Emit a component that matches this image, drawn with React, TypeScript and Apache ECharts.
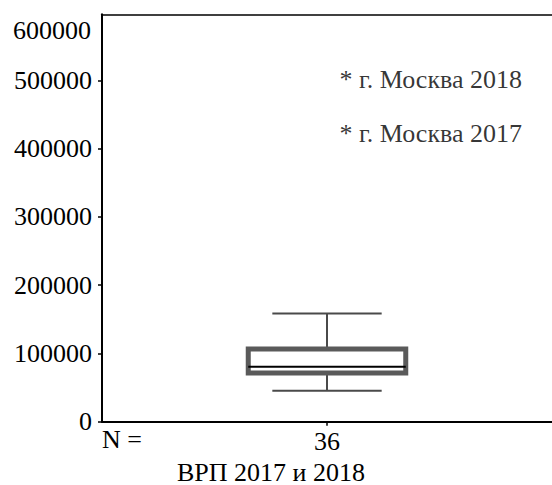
import React, { useEffect, useRef } from "react";
import * as echarts from "echarts";

// ---- data ----
const categories = ["36"];
const whiskerLow = [45400];
const quartile1 = [71300];
const medians = [80500];
const quartile3 = [106400];
const whiskerHigh = [158700];

const outlierNames = ["* г. Москва 2018", "* г. Москва 2017"];
const outlierValues = [502000, 422500];

const yTicks = [0, 100000, 200000, 300000, 400000, 500000];
const yTopLabel = "600000";
const yMax = 597000;

const nLabel = "N =";
const xTitle = "ВРП 2017 и 2018";

const FONT = "'Liberation Serif', 'Times New Roman', serif";

export default function App() {
  const ref = useRef<HTMLDivElement>(null);

  useEffect(() => {
    if (!ref.current) return;
    const chart = echarts.init(ref.current, null, { renderer: "svg" });

    const boxData = categories.map((_, i) => [
      i,
      whiskerLow[i],
      quartile1[i],
      medians[i],
      quartile3[i],
      whiskerHigh[i],
    ]);

    const outlierData = outlierValues.map((v, i) => ({
      value: [0, v],
      name: outlierNames[i],
    }));

    const option: any = {
      animation: false,
      backgroundColor: "#fff",
      grid: {
        left: 102,
        right: 0,
        top: 14.3,
        bottom: 63.3,
        containLabel: false,
        outerBoundsMode: "none",
      },
      xAxis: [
        {
          type: "category",
          data: categories,
          position: "bottom",
          boundaryGap: true,
          axisLine: { show: true, lineStyle: { color: "#000", width: 2 } },
          axisTick: {
            show: true,
            alignWithLabel: true,
            length: 4,
            lineStyle: { color: "#000", width: 1.5 },
          },
          axisLabel: {
            color: "#000",
            fontFamily: FONT,
            fontSize: 26,
            margin: 7,
          },
          splitLine: { show: false },
        },
        {
          type: "category",
          data: categories,
          position: "top",
          axisLine: { show: true, lineStyle: { color: "#000", width: 1.5 } },
          axisTick: { show: false },
          axisLabel: { show: false },
          splitLine: { show: false },
        },
      ],
      yAxis: {
        type: "value",
        min: 0,
        max: yMax,
        interval: 100000,
        axisLine: { show: true, lineStyle: { color: "#000", width: 2 } },
        axisTick: {
          show: true,
          length: 4,
          lineStyle: { color: "#000", width: 1.5 },
          customValues: yTicks,
        },
        axisLabel: {
          color: "#000",
          fontFamily: FONT,
          fontSize: 26,
          margin: 10,
          customValues: yTicks,
          formatter: (v: number) => String(v),
        },
        splitLine: { show: false },
      },
      series: [
        {
          type: "custom",
          xAxisIndex: 0,
          data: boxData,
          encode: { x: 0, y: [1, 2, 3, 4, 5] },
          renderItem: (params: any, api: any) => {
            const idx = api.value(0);
            const cx = api.coord([idx, 0])[0];
            const bw = api.size([1, 0])[0];
            const boxW = bw * 0.35;
            const capW = bw * 0.243;
            const yLow = api.coord([idx, api.value(1)])[1];
            const yQ1 = api.coord([idx, api.value(2)])[1];
            const yMed = api.coord([idx, api.value(3)])[1];
            const yQ3 = api.coord([idx, api.value(4)])[1];
            const yHigh = api.coord([idx, api.value(5)])[1];
            const wStyle = { stroke: "#4a4a4a", lineWidth: 2, fill: null };
            return {
              type: "group",
              children: [
                { type: "line", shape: { x1: cx, y1: yHigh, x2: cx, y2: yQ3 }, style: wStyle },
                { type: "line", shape: { x1: cx, y1: yQ1, x2: cx, y2: yLow }, style: wStyle },
                { type: "line", shape: { x1: cx - capW / 2, y1: yHigh, x2: cx + capW / 2, y2: yHigh }, style: wStyle },
                { type: "line", shape: { x1: cx - capW / 2, y1: yLow, x2: cx + capW / 2, y2: yLow }, style: wStyle },
                {
                  type: "rect",
                  shape: { x: cx - boxW / 2, y: yQ3, width: boxW, height: yQ1 - yQ3 },
                  style: { fill: "#fff", stroke: "#5a5a5a", lineWidth: 5 },
                },
                {
                  type: "line",
                  shape: { x1: cx - boxW / 2, y1: yMed, x2: cx + boxW / 2, y2: yMed },
                  style: { stroke: "#000", lineWidth: 2 },
                },
              ],
            };
          },
        },
        {
          type: "scatter",
          xAxisIndex: 0,
          data: outlierData,
          symbolSize: 1,
          itemStyle: { color: "rgba(0,0,0,0)" },
          labelLayout: { hideOverlap: false },
          label: {
            show: true,
            position: "right",
            distance: 12,
            formatter: (p: any) => p.name,
            color: "#000",
            fontFamily: FONT,
            fontSize: 26,
          },
        },
      ],
      graphic: [
        {
          type: "text",
          x: 91,
          y: 30,
          style: {
            text: yTopLabel,
            fill: "#000",
            fontFamily: FONT,
            fontSize: 26,
            align: "right",
            verticalAlign: "middle",
          },
        },
        {
          type: "text",
          x: 102,
          y: 439,
          style: {
            text: nLabel,
            fill: "#000",
            fontFamily: FONT,
            fontSize: 26,
            align: "left",
            verticalAlign: "middle",
          },
        },
        {
          type: "text",
          x: 271,
          y: 472,
          style: {
            text: xTitle,
            fill: "#000",
            fontFamily: FONT,
            fontSize: 26,
            align: "center",
            verticalAlign: "middle",
          },
        },
      ],
    };

    chart.setOption(option);
    return () => chart.dispose();
  }, []);

  return <div ref={ref} style={{ width: 552, height: 485, position: "absolute", left: 0, top: 0 }} />;
}
